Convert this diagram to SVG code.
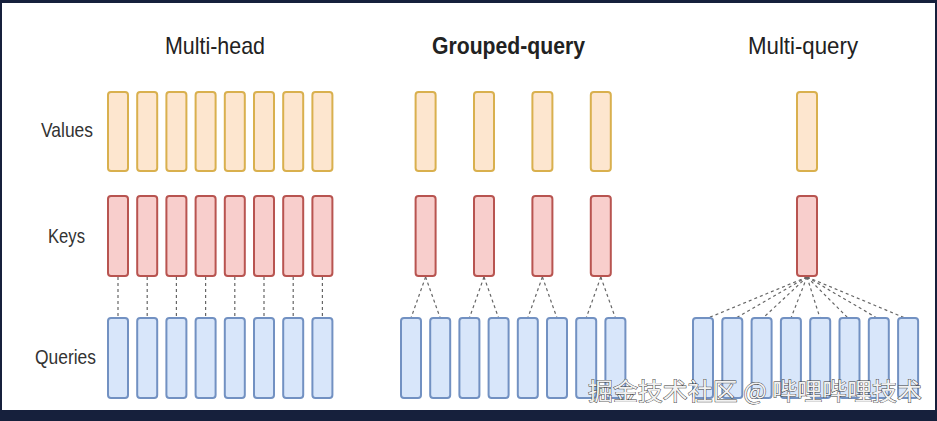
<svg xmlns="http://www.w3.org/2000/svg" width="937" height="421" viewBox="0 0 937 421">
<style>
.t{font-family:"Liberation Sans",Arial,sans-serif;fill:#222}
.title{font-size:24px}
.lbl{font-size:21px;fill:#333}
.v{fill:#fde6cf;stroke:#d9b04e;stroke-width:2}
.k{fill:#f8cecc;stroke:#b85450;stroke-width:2}
.q{fill:#d8e6fa;stroke:#7291c2;stroke-width:2}
.c line{stroke:#666;stroke-width:1.2;stroke-dasharray:3 3;fill:none}
.wm{font-family:"Noto Sans CJK SC","Noto Sans",sans-serif;font-size:24px;fill:#f2f2f2;stroke:#3a3a3a;stroke-width:0.9;paint-order:stroke}
</style>
<defs>
<rect id="bv" class="v" width="20" height="79" rx="3"/>
<rect id="bk" class="k" width="20" height="80" rx="3"/>
<rect id="bq" class="q" width="20" height="80" rx="3"/>
</defs>
<rect x="0" y="0" width="937" height="421" fill="#16203c"/>
<rect x="2" y="3" width="933" height="407" fill="#ffffff"/>

<g id="titles">
<text class="t title" x="165" y="54" textLength="100" lengthAdjust="spacingAndGlyphs">Multi-head</text>
<text class="t title" x="432" y="54" font-weight="bold" textLength="153" lengthAdjust="spacingAndGlyphs">Grouped-query</text>
<text class="t title" x="748" y="54" textLength="110" lengthAdjust="spacingAndGlyphs">Multi-query</text>
</g>
<g id="labels">
<text class="t lbl" x="41" y="137" textLength="52" lengthAdjust="spacingAndGlyphs">Values</text>
<text class="t lbl" x="48" y="243" textLength="37" lengthAdjust="spacingAndGlyphs">Keys</text>
<text class="t lbl" x="35" y="364" textLength="61" lengthAdjust="spacingAndGlyphs">Queries</text>
</g>

<g id="connectors" class="c">
<line x1="118" y1="277" x2="118" y2="318"/>
<line x1="147.2" y1="277" x2="147.2" y2="318"/>
<line x1="176.4" y1="277" x2="176.4" y2="318"/>
<line x1="205.6" y1="277" x2="205.6" y2="318"/>
<line x1="234.8" y1="277" x2="234.8" y2="318"/>
<line x1="264" y1="277" x2="264" y2="318"/>
<line x1="293.2" y1="277" x2="293.2" y2="318"/>
<line x1="322.4" y1="277" x2="322.4" y2="318"/>

<line x1="425.6" y1="277" x2="411" y2="318"/>
<line x1="425.6" y1="277" x2="440.2" y2="318"/>
<line x1="484" y1="277" x2="469.4" y2="318"/>
<line x1="484" y1="277" x2="498.6" y2="318"/>
<line x1="542.4" y1="277" x2="527.8" y2="318"/>
<line x1="542.4" y1="277" x2="557" y2="318"/>
<line x1="600.8" y1="277" x2="586.2" y2="318"/>
<line x1="600.8" y1="277" x2="615.4" y2="318"/>

<line x1="807" y1="277" x2="708" y2="318"/>
<line x1="807" y1="277" x2="736" y2="318"/>
<line x1="807" y1="277" x2="763" y2="318"/>
<line x1="807" y1="277" x2="791" y2="318"/>
<line x1="807" y1="277" x2="820" y2="318"/>
<line x1="807" y1="277" x2="848" y2="318"/>
<line x1="807" y1="277" x2="877" y2="318"/>
<line x1="807" y1="277" x2="905" y2="318"/>
</g>

<g id="multi-head">
<g id="mh-values">
<use href="#bv" x="108" y="92"/><use href="#bv" x="137.2" y="92"/><use href="#bv" x="166.4" y="92"/><use href="#bv" x="195.6" y="92"/>
<use href="#bv" x="224.8" y="92"/><use href="#bv" x="254" y="92"/><use href="#bv" x="283.2" y="92"/><use href="#bv" x="312.4" y="92"/>
</g>
<g id="mh-keys">
<use href="#bk" x="108" y="196"/><use href="#bk" x="137.2" y="196"/><use href="#bk" x="166.4" y="196"/><use href="#bk" x="195.6" y="196"/>
<use href="#bk" x="224.8" y="196"/><use href="#bk" x="254" y="196"/><use href="#bk" x="283.2" y="196"/><use href="#bk" x="312.4" y="196"/>
</g>
<g id="mh-queries">
<use href="#bq" x="108" y="318"/><use href="#bq" x="137.2" y="318"/><use href="#bq" x="166.4" y="318"/><use href="#bq" x="195.6" y="318"/>
<use href="#bq" x="224.8" y="318"/><use href="#bq" x="254" y="318"/><use href="#bq" x="283.2" y="318"/><use href="#bq" x="312.4" y="318"/>
</g>
</g>

<g id="grouped-query">
<g id="gq-values">
<use href="#bv" x="415.6" y="92"/><use href="#bv" x="474" y="92"/><use href="#bv" x="532.4" y="92"/><use href="#bv" x="590.8" y="92"/>
</g>
<g id="gq-keys">
<use href="#bk" x="415.6" y="196"/><use href="#bk" x="474" y="196"/><use href="#bk" x="532.4" y="196"/><use href="#bk" x="590.8" y="196"/>
</g>
<g id="gq-queries">
<use href="#bq" x="401" y="318"/><use href="#bq" x="430.2" y="318"/><use href="#bq" x="459.4" y="318"/><use href="#bq" x="488.6" y="318"/>
<use href="#bq" x="517.8" y="318"/><use href="#bq" x="547" y="318"/><use href="#bq" x="576.2" y="318"/><use href="#bq" x="605.4" y="318"/>
</g>
</g>

<g id="multi-query">
<g id="mq-values"><use href="#bv" x="797" y="92"/></g>
<g id="mq-keys"><use href="#bk" x="797" y="196"/></g>
<g id="mq-queries">
<use href="#bq" x="693" y="318"/><use href="#bq" x="722.3" y="318"/><use href="#bq" x="751.6" y="318"/><use href="#bq" x="780.9" y="318"/>
<use href="#bq" x="810.2" y="318"/><use href="#bq" x="839.5" y="318"/><use href="#bq" x="868.8" y="318"/><use href="#bq" x="898.1" y="318"/>
</g>
</g>

<text class="wm" x="588" y="400" textLength="334" lengthAdjust="spacingAndGlyphs">掘金技术社区 @ 哔哩哔哩技术</text>
</svg>
